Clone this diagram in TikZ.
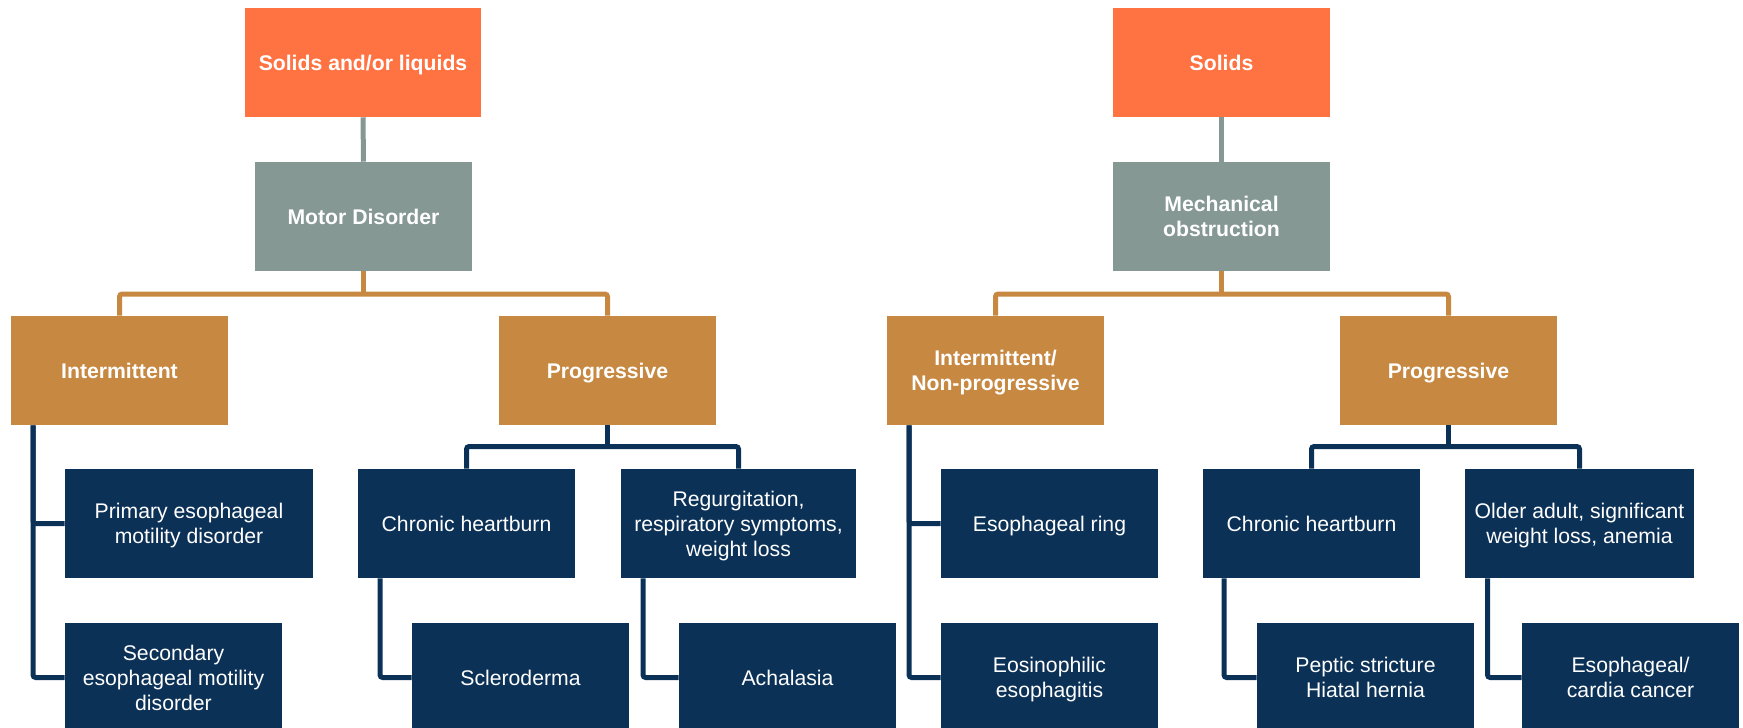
\documentclass[tikz,border=0pt]{standalone}
\usepackage{fontspec}
\setmainfont{Liberation Sans}
\definecolor{topor}{HTML}{FF7342}
\definecolor{grayg}{HTML}{869894}
\definecolor{ochre}{HTML}{C78841}
\definecolor{navy}{HTML}{0C3157}
\begin{document}
\begin{tikzpicture}[x=0.75pt,y=-0.75pt,
  box/.style={rectangle,inner sep=0pt,minimum height=81.75pt,text=white,align=center,
    text depth=0pt,font=\fontsize{15.9}{18.75}\selectfont},
  bbox/.style={box,font=\fontsize{15.9}{18.75}\selectfont\bfseries},
  topbox/.style={bbox,fill=topor},
  midbox/.style={bbox,fill=grayg},
  catbox/.style={bbox,fill=ochre},
  leafbox/.style={box,fill=navy},
  gl/.style={draw=grayg,line width=3.75pt},
  ol/.style={draw=ochre,line width=3.75pt,rounded corners=2pt},
  nl/.style={draw=navy,line width=3.75pt,rounded corners=2pt}]
\useasboundingbox (0,0) rectangle (1743,728);
\clip (0,0) rectangle (1743,728);

% ---------- left tree ----------
\node[topbox,minimum width=177pt] (sl) at (363,62.5) {Solids and/or liquids};
\node[midbox,minimum width=162.75pt] (md) at (363.5,216.5) {Motor Disorder};
\node[catbox,minimum width=162.75pt] (int) at (119.5,370.5) {Intermittent};
\node[catbox,minimum width=162.75pt] (pl) at (607.5,370.5) {Progressive};
\node[leafbox,minimum width=186pt] (prim) at (189,523.5) {Primary esophageal\\motility disorder};
\node[leafbox,minimum width=162.75pt] (sec) at (173.5,677.5) {Secondary\\esophageal motility\\disorder};
\node[leafbox,minimum width=162.75pt] (chl) at (466.5,523.5) {Chronic heartburn};
\node[leafbox,minimum width=176.25pt] (reg) at (738.5,523.5) {Regurgitation,\\respiratory symptoms,\\weight loss};
\node[leafbox,minimum width=162.75pt] (scl) at (520.5,677.5) {Scleroderma};
\node[leafbox,minimum width=162.75pt] (ach) at (787.5,677.5) {Achalasia};

% ---------- right tree ----------
\node[topbox,minimum width=162.75pt] (so) at (1221.5,62.5) {Solids};
\node[midbox,minimum width=162.75pt] (me) at (1221.5,216.5) {Mechanical\\obstruction};
\node[catbox,minimum width=162.75pt] (inn) at (995.5,370.5) {Intermittent/\\Non-progressive};
\node[catbox,minimum width=162.75pt] (pr) at (1448.5,370.5) {Progressive};
\node[leafbox,minimum width=162.75pt] (ring) at (1049.5,523.5) {Esophageal ring};
\node[leafbox,minimum width=162.75pt] (eos) at (1049.5,677.5) {Eosinophilic\\esophagitis};
\node[leafbox,minimum width=162.75pt] (chr) at (1311.5,523.5) {Chronic heartburn};
\node[leafbox,minimum width=171.75pt] (old) at (1579.5,523.5) {Older adult, significant\\weight loss, anemia};
\node[leafbox,minimum width=162.75pt] (pep) at (1365.5,677.5) {Peptic stricture\\Hiatal hernia};
\node[leafbox,minimum width=162.75pt] (can) at (1630.5,677.5) {Esophageal/\\cardia cancer};

% helper coordinates
\coordinate (hA) at (0,294);
\coordinate (hB) at (0,446.5);
\coordinate (tL) at (33,0);
\coordinate (cL1) at (380,0);
\coordinate (cL2) at (643,0);
\coordinate (tR) at (909,0);
\coordinate (cR1) at (1224,0);
\coordinate (cR2) at (1487.5,0);

% ---------- left connectors ----------
\draw[gl] (sl.south) -- (md.north);
\draw[ol] (md.south) -- (md.south |- hA);
\draw[ol] (int.north) -- (int.north |- hA) -| (pl.north);
\draw[nl] (int.south -| tL) |- (sec.west);
\draw[nl] (int.south -| tL) |- (prim.west);
\draw[nl] (pl.south) -- (pl.south |- hB);
\draw[nl] (chl.north) -- (chl.north |- hB) -| (reg.north);
\draw[nl] (chl.south -| cL1) |- (scl.west);
\draw[nl] (reg.south -| cL2) |- (ach.west);

% ---------- right connectors ----------
\draw[gl] (so.south) -- (me.north);
\draw[ol] (me.south) -- (me.south |- hA);
\draw[ol] (inn.north) -- (inn.north |- hA) -| (pr.north);
\draw[nl] (inn.south -| tR) |- (eos.west);
\draw[nl] (inn.south -| tR) |- (ring.west);
\draw[nl] (pr.south) -- (pr.south |- hB);
\draw[nl] (chr.north) -- (chr.north |- hB) -| (old.north);
\draw[nl] (chr.south -| cR1) |- (pep.west);
\draw[nl] (old.south -| cR2) |- (can.west);
\end{tikzpicture}
\end{document}
